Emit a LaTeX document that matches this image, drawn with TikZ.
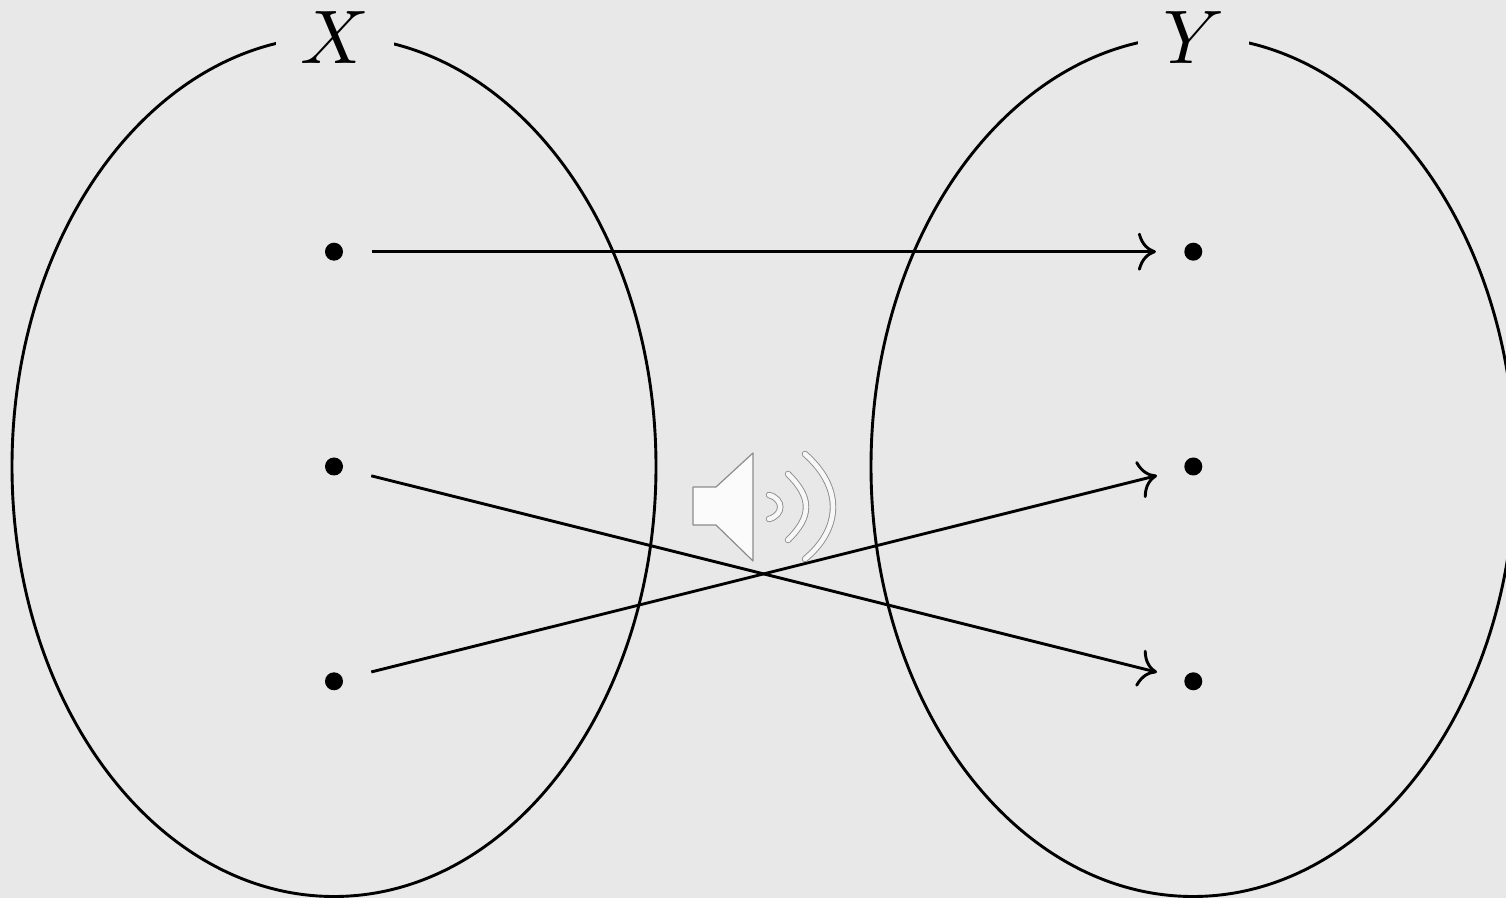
\documentclass[tikz,border=0pt]{standalone}
\usetikzlibrary{arrows.meta,shapes.geometric}
\definecolor{bgc}{HTML}{E8E8E8}
\definecolor{spk}{HTML}{8C8C8C}
\definecolor{spkfill}{HTML}{FBFBFB}
\tikzset{
  x=0.5pt,y=-0.5pt,
  setshape/.style={draw=black,line width=1.45pt,ellipse,minimum width=322pt,minimum height=430pt,inner sep=0pt},
  setlabel/.style={fill=bgc,inner sep=0pt,minimum height=38pt},
  elementdot/.style={circle,fill=black,inner sep=0pt,minimum size=9pt},
  maparrow/.style={line width=1.45pt,shorten <=14.5pt,shorten >=14pt,-{Computer Modern Rightarrow[length=9pt,width=19pt]}},
  speakerbody/.style={draw=spk,line width=0.6pt,fill=spkfill,line join=round},
  waveout/.style={draw=spk,line width=3.2pt,line cap=round},
  wavein/.style={draw=white!97!black,line width=2.3pt,line cap=round}
}
\begin{document}
\begin{tikzpicture}
\useasboundingbox[fill=bgc] (0,0) rectangle (1506,898);
\node[setshape] (setX) at (334,466.5) {};
\node[setshape] (setY) at (1193,466.5) {};
\node[setlabel,minimum width=59pt] (labX) at (334.5,38) {\scalebox{3.8}{$X$}};
\node[setlabel,minimum width=55.5pt] (labY) at (1193.5,38) {\scalebox{3.8}{$Y$}};
\node[elementdot] (x1) at (334,251.7) {};
\node[elementdot] (x2) at (334,466.5) {};
\node[elementdot] (x3) at (334,681.3) {};
\node[elementdot] (y1) at (1193.3,251.7) {};
\node[elementdot] (y2) at (1193.3,466.5) {};
\node[elementdot] (y3) at (1193.3,681.3) {};
\draw[maparrow] (x1) -- (y1);
\draw[maparrow] (x2) -- (y3);
\draw[maparrow] (x3) -- (y2);
% speaker icon
\draw[speakerbody] (693,487) -- (716,487) -- (753,453) -- (753,561) -- (716,525) -- (693,525) -- cycle;
\foreach \style in {waveout,wavein}{
  \draw[\style] (769,495) .. controls (784,499) and (784,515) .. (769,519);
  \draw[\style] (788,474) .. controls (800,486) and (806,496) .. (806,507) .. controls (806,518) and (800,528) .. (788,540);
  \draw[\style] (805,454) .. controls (823,470) and (833,488) .. (833,507) .. controls (833,526) and (823,544) .. (805,559);
}
\end{tikzpicture}
\end{document}
